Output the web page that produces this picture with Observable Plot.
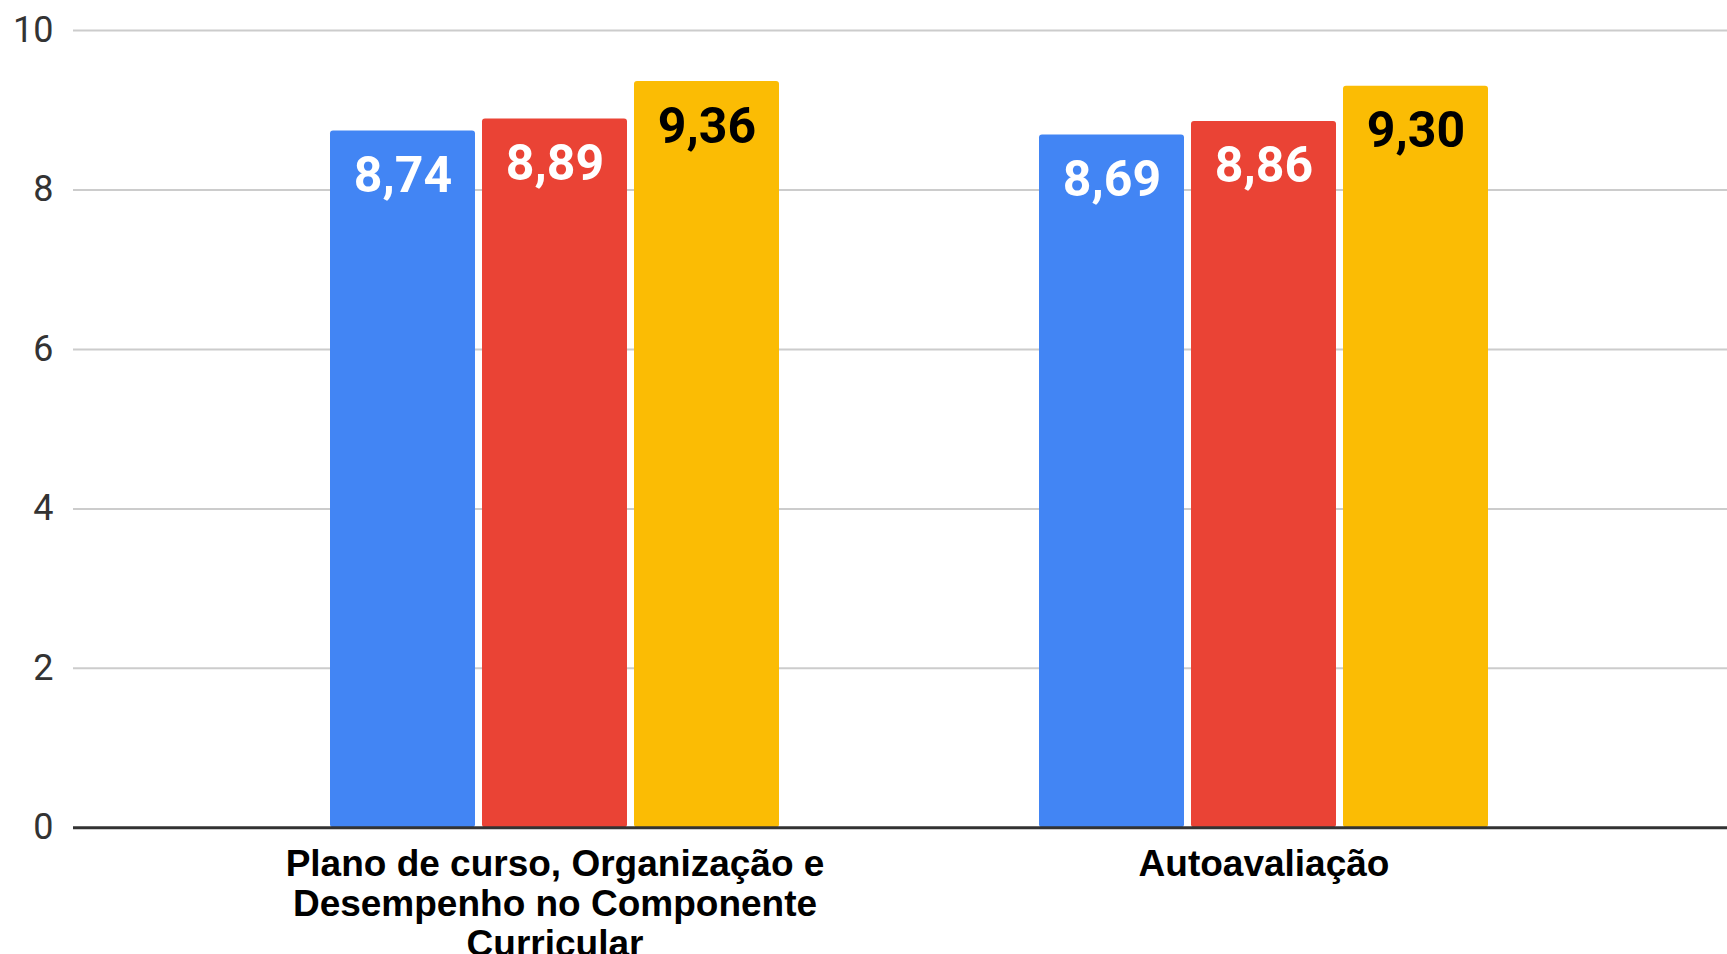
<!DOCTYPE html>
<html>
<head>
<meta charset="utf-8">
<script src="https://cdn.jsdelivr.net/npm/d3@7"></script>
<script src="https://cdn.jsdelivr.net/npm/@observablehq/plot@0.6"></script>
<style>
  html, body { margin: 0; padding: 0; background: #ffffff; overflow: hidden; }
  #chart { position: relative; width: 1727px; height: 954px; }
  #chart svg { position: absolute; left: 0; top: 0; }
</style>
</head>
<body>
<div id="chart"></div>
<script>
// ---- data ----
const categories = [
  "Plano de curso, Organização e Desempenho no Componente Curricular",
  "Autoavaliação"
];
const categoryLabels = [
  "Plano de curso, Organização e\nDesempenho no Componente\nCurricular",
  "Autoavaliação"
];
const series = ["Série 1", "Série 2", "Série 3"];
const series1Values = [8.74, 8.69];
const series2Values = [8.89, 8.86];
const series3Values = [9.36, 9.30];
const seriesColors = ["#4285F4", "#EA4335", "#FBBC04"];
const labelColors = ["#ffffff", "#ffffff", "#000000"];
const yTicks = [0, 2, 4, 6, 8, 10];

// ---- table built from the arrays ----
const table = [];
[series1Values, series2Values, series3Values].forEach((vals, si) =>
  vals.forEach((v, ci) => table.push({category: categories[ci], series: series[si], value: v}))
);
const fmt = v => d3.format(".2f")(v).replace(".", ",");

// ---- layout ----
const W = 1727, H = 954;
const dims = {width: W, height: H, marginTop: 30, marginBottom: 126.7, marginLeft: 73, marginRight: 0};
const layerStyle = {background: "transparent", position: "absolute", left: "0px", top: "0px", maxWidth: "none"};
const yScale = {domain: [0, 10]};

// Layer A: gridlines + y tick labels
const gridLayer = Plot.plot({
  ...dims,
  style: {...layerStyle, background: "#ffffff", fontFamily: "Roboto, Arial, sans-serif", fontSize: "36px"},
  y: yScale,
  marks: [
    Plot.ruleY(yTicks.filter(t => t > 0), {y: d => d, stroke: "#cccccc", strokeWidth: 2}),
    Plot.axisY(yTicks, {tickSize: 0, tickPadding: 20, label: null, fill: "#333333", tickFormat: d => String(d)})
  ]
});

// Layer B: grouped bars (faceted by category) + labels
const barLayer = Plot.plot({
  ...dims,
  style: {...layerStyle},
  fx: {domain: categories, range: [200, 1618.6], paddingInner: 0, paddingOuter: 0, axis: null},
  x: {domain: series, paddingInner: 0.043, paddingOuter: 0, insetLeft: 129.2, insetRight: 129.1, axis: null},
  y: {...yScale, axis: null},
  color: {domain: series, range: seriesColors},
  marks: [
    Plot.barY(table, {fx: "category", x: "series", y: "value", fill: "series", rx: 3}),
    Plot.text(table, {
      fx: "category", x: "series", y: "value",
      text: d => fmt(d.value),
      dy: 45,
      fill: d => labelColors[series.indexOf(d.series)],
      fontFamily: "Roboto, Arial, sans-serif", fontWeight: "bold", fontSize: 50
    }),
    Plot.text(categories, {
      fx: d => d,
      text: (d, i) => categoryLabels[i],
      frameAnchor: "bottom", lineAnchor: "top", dy: 20.5,
      lineHeight: 1.07,
      fill: "#000000",
      fontFamily: "'Liberation Sans', Arial, sans-serif", fontWeight: "bold", fontSize: 37
    })
  ]
});

// Layer C: baseline on top of the bars
const baseLayer = Plot.plot({
  ...dims,
  style: {...layerStyle},
  y: {...yScale, axis: null},
  marks: [
    Plot.ruleY([0], {stroke: "#333333", strokeWidth: 3})
  ]
});

const chart = document.getElementById("chart");
chart.append(gridLayer, barLayer, baseLayer);
</script>
</body>
</html>
